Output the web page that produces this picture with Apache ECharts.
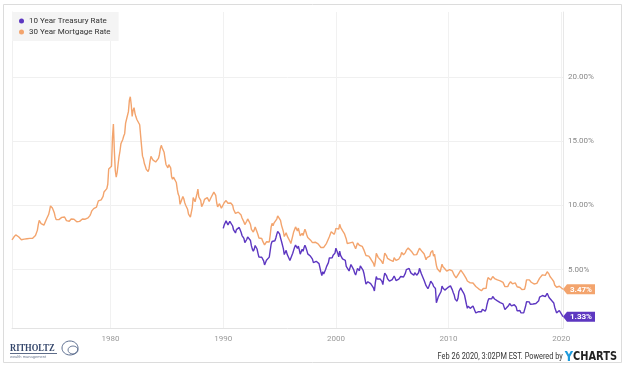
<!DOCTYPE html>
<html>
<head>
<meta charset="utf-8">
<script src="https://cdn.jsdelivr.net/npm/echarts@6/dist/echarts.min.js"></script>
<style>html,body{margin:0;padding:0;background:#fff}#c{width:625px;height:370px}</style>
</head>
<body>
<div id="c"></div>
<script>
// ---- data (monthly values) ----
const seriesNames = ['10 Year Treasury Rate', '30 Year Mortgage Rate'];
const mortgageStart = 1971.25;   // April 1971
const treasuryStart = 1990.0;    // January 1990
const asOfDate = 2020.155;       // Feb 26 2020 (last point)
const yTicks = [5, 10, 15, 20];
const xTicks = [1980, 1990, 2000, 2010, 2020];

const mortgage = [
  7.31,7.43,7.53,7.60,7.70,7.69,7.63,7.55,7.48,
  7.44,7.32,7.29,7.29,7.37,7.37,7.40,7.40,7.42,7.42,7.43,7.44,
  7.44,7.44,7.46,7.54,7.65,7.73,8.05,8.50,8.82,8.77,8.58,8.54,
  8.54,8.46,8.41,8.58,8.97,9.09,9.28,9.59,9.96,9.98,9.79,9.62,
  9.43,9.10,8.89,8.82,8.91,8.89,8.82,8.84,9.06,9.21,9.15,9.09,
  9.02,8.81,8.76,8.73,8.76,8.85,8.93,8.98,9.00,8.92,8.81,8.79,
  8.72,8.67,8.69,8.75,8.83,8.86,8.94,8.94,8.90,8.92,8.92,8.96,
  9.02,9.15,9.20,9.36,9.57,9.71,9.74,9.78,9.76,9.86,10.11,10.35,
  10.39,10.41,10.43,10.50,10.69,11.04,11.09,11.09,11.30,11.64,12.83,12.90,
  12.88,13.04,15.28,16.32,14.26,12.71,12.19,12.56,13.20,13.79,14.21,14.79,
  14.90,15.13,15.40,15.58,16.40,16.70,16.83,17.29,18.16,18.45,17.83,16.92,
  17.40,17.60,17.16,16.89,16.68,16.70,16.82,16.27,15.43,14.61,13.83,13.62,
  13.25,13.04,12.80,12.78,12.63,12.87,13.42,13.81,13.73,13.54,13.44,13.42,
  13.37,13.23,13.39,13.65,13.94,14.42,14.67,14.47,14.35,14.13,13.64,13.18,
  13.08,12.92,13.17,13.20,12.91,12.22,12.03,12.19,12.19,12.14,11.78,11.26,
  10.88,10.71,10.08,9.94,10.14,10.68,10.51,10.20,10.01,9.97,9.70,9.31,
  9.20,9.08,9.04,9.83,10.60,10.54,10.28,10.33,10.89,11.26,10.65,10.64,
  10.38,9.89,9.93,10.20,10.46,10.46,10.43,10.60,10.48,10.30,10.27,10.61,
  10.73,10.65,11.03,11.05,10.77,10.20,9.88,9.99,10.13,9.95,9.77,9.74,
  9.90,10.20,10.27,10.37,10.48,10.16,10.04,10.10,10.18,10.18,10.01,9.67,
  9.64,9.37,9.50,9.49,9.47,9.62,9.58,9.24,9.01,8.86,8.71,8.50,
  8.43,8.76,8.94,8.85,8.67,8.51,8.13,7.98,7.92,8.09,8.31,8.22,
  7.92,7.71,7.46,7.46,7.47,7.42,7.21,7.11,6.92,6.83,7.16,7.17,
  7.06,7.15,7.68,8.32,8.60,8.40,8.61,8.51,8.64,8.93,9.17,9.20,
  9.15,8.83,8.46,8.32,7.96,7.57,7.61,7.86,7.64,7.48,7.38,7.20,
  7.03,7.08,7.62,7.93,8.07,8.32,8.25,8.00,8.23,7.92,7.62,7.60,
  7.82,7.65,7.90,8.14,7.94,7.69,7.50,7.48,7.43,7.29,7.21,7.10,
  6.99,7.04,7.13,7.14,7.14,7.00,6.95,6.92,6.72,6.71,6.87,6.72,
  6.79,6.81,7.04,6.92,7.15,7.55,7.63,7.94,7.82,7.85,7.74,7.91,
  8.21,8.33,8.24,8.15,8.52,8.29,8.15,8.03,7.91,7.80,7.75,7.38,
  7.03,7.05,6.95,7.08,7.15,7.16,7.13,6.95,6.82,6.62,6.66,7.07,
  7.00,6.89,7.01,6.99,6.81,6.65,6.49,6.29,6.09,6.11,6.07,6.05,
  5.92,5.84,5.75,5.81,5.48,5.23,5.63,6.26,6.15,5.95,5.93,5.88,
  5.71,5.64,5.45,5.83,6.27,6.29,6.06,5.87,5.75,5.72,5.73,5.75,
  5.71,5.63,5.93,5.86,5.72,5.58,5.70,5.82,5.77,6.07,6.33,6.27,
  6.15,6.25,6.32,6.51,6.60,6.68,6.76,6.52,6.40,6.36,6.24,6.14,
  6.22,6.29,6.16,6.18,6.26,6.66,6.70,6.57,6.38,6.38,6.21,6.10,
  5.76,5.92,5.97,5.92,6.04,6.32,6.43,6.48,6.04,6.20,6.09,5.33,
  5.06,5.13,5.00,4.81,4.86,5.42,5.22,5.19,5.06,4.95,4.88,4.93,
  5.03,4.99,4.97,5.10,4.89,4.74,4.56,4.43,4.35,4.23,4.30,4.71,
  4.76,4.95,4.84,4.84,4.64,4.51,4.55,4.27,4.11,4.07,3.99,3.96,
  3.92,3.89,3.95,3.91,3.80,3.68,3.55,3.60,3.50,3.38,3.35,3.35,
  3.41,3.53,3.57,3.45,3.54,4.07,4.37,4.46,4.49,4.19,4.26,4.46,
  4.43,4.30,4.34,4.34,4.19,4.16,4.13,4.12,4.16,4.04,4.00,3.86,
  3.67,3.71,3.77,3.67,3.84,3.98,4.05,3.91,3.89,3.80,3.94,3.96,
  3.87,3.66,3.69,3.61,3.60,3.57,3.44,3.44,3.46,3.47,3.77,4.20,
  4.15,4.17,4.20,4.05,4.01,3.90,3.97,3.88,3.81,3.90,3.92,3.95,
  4.03,4.33,4.44,4.47,4.59,4.57,4.53,4.55,4.63,4.83,4.87,4.64,
  4.46,4.37,4.27,4.14,4.07,3.80,3.77,3.62,3.61,3.69,3.70,3.72,
  3.62,3.47
];

const treasury = [
  8.21,8.47,8.59,8.79,8.76,8.48,8.47,8.75,8.89,8.72,8.39,8.08,
  8.09,7.85,8.11,8.04,8.07,8.28,8.27,7.90,7.65,7.53,7.42,7.09,
  7.03,7.34,7.54,7.48,7.39,7.26,6.84,6.59,6.42,6.59,6.87,6.77,
  6.60,6.26,5.98,5.97,6.04,5.96,5.81,5.68,5.36,5.33,5.72,5.77,
  5.75,5.97,6.48,6.97,7.18,7.10,7.30,7.24,7.46,7.74,7.96,7.81,
  7.78,7.47,7.20,7.06,6.63,6.17,6.28,6.49,6.20,6.04,5.93,5.71,
  5.65,5.81,6.27,6.51,6.74,6.91,6.87,6.64,6.83,6.53,6.20,6.30,
  6.58,6.42,6.69,6.89,6.71,6.49,6.22,6.30,6.21,6.03,5.88,5.81,
  5.54,5.57,5.65,5.64,5.65,5.50,5.46,5.34,4.81,4.53,4.83,4.65,
  4.72,5.00,5.23,5.18,5.54,5.90,5.79,5.94,5.92,6.11,6.03,6.28,
  6.66,6.52,6.26,5.99,6.44,6.10,6.05,5.83,5.80,5.74,5.72,5.24,
  5.16,5.10,4.89,5.14,5.39,5.28,5.24,4.97,4.73,4.57,4.65,5.09,
  5.04,4.91,5.28,5.21,5.16,4.93,4.65,4.26,3.87,3.94,4.05,4.03,
  4.05,3.90,3.81,3.96,3.57,3.33,3.98,4.45,4.27,4.29,4.30,4.27,
  4.15,4.08,3.83,4.35,4.72,4.73,4.50,4.28,4.13,4.10,4.19,4.23,
  4.22,4.17,4.50,4.34,4.14,4.00,4.18,4.26,4.20,4.46,4.54,4.47,
  4.42,4.57,4.72,4.99,5.11,5.11,5.09,4.88,4.72,4.73,4.60,4.56,
  4.76,4.72,4.56,4.69,4.75,5.10,5.00,4.67,4.52,4.53,4.15,4.10,
  3.74,3.74,3.51,3.68,3.88,4.10,4.01,3.89,3.69,3.81,3.53,2.42,
  2.52,2.87,2.82,2.93,3.29,3.72,3.56,3.59,3.40,3.39,3.40,3.59,
  3.73,3.69,3.73,3.85,3.42,3.20,3.01,2.70,2.65,2.54,2.76,3.29,
  3.39,3.58,3.41,3.46,3.17,3.00,3.00,2.30,1.98,2.15,2.01,1.98,
  1.97,1.97,2.17,2.05,1.80,1.62,1.53,1.68,1.72,1.75,1.65,1.72,
  1.91,1.98,1.96,1.76,1.93,2.30,2.58,2.74,2.81,2.62,2.72,2.90,
  2.86,2.71,2.72,2.71,2.56,2.60,2.54,2.42,2.53,2.30,2.33,2.21,
  1.88,1.98,2.04,1.94,2.20,2.36,2.32,2.17,2.17,2.07,2.26,2.24,
  2.09,1.78,1.89,1.81,1.81,1.64,1.50,1.56,1.63,1.76,2.14,2.49,
  2.43,2.42,2.48,2.30,2.30,2.19,2.32,2.21,2.20,2.36,2.35,2.40,
  2.58,2.86,2.84,2.87,2.98,2.91,2.89,2.89,3.00,3.15,3.12,2.83,
  2.71,2.68,2.57,2.53,2.40,2.07,2.06,1.63,1.70,1.71,1.81,1.86,
  1.76,1.33
];

// ---- build ----
const PURPLE = '#5d37c1';
const ORANGE = '#f3a46d';
const FONT = 'Roboto, sans-serif';

function toPairs(vals, start) {
  return vals.map((v, i) => [i === vals.length - 1 ? asOfDate : start + i / 12, v]);
}
const tData = toPairs(treasury, treasuryStart);
const mData = toPairs(mortgage, mortgageStart);

function tag(pairs, color) {
  const last = pairs[pairs.length - 1];
  return {
    symbol: 'path://M0,5 L4,0 L32,0 L32,10 L4,10 Z',
    symbolSize: [32, 10],
    symbolOffset: [16, 0],
    silent: true,
    itemStyle: { color: color },
    label: {
      show: true, position: 'inside', offset: [2, 0.5],
      color: '#fff', fontFamily: FONT, fontSize: 8, fontWeight: 'bold',
      formatter: (p) => p.value.toFixed(2) + '%'
    },
    data: [{ coord: last, value: last[1] }]
  };
}

const chart = echarts.init(document.getElementById('c'), null, { renderer: 'canvas' });
chart.setOption({
  animation: false,
  backgroundColor: '#fff',
  grid: { left: 12, right: 62, top: 12, bottom: 42 },
  legend: {
    orient: 'vertical', left: 12, top: 12,
    backgroundColor: '#f4f4f4',
    padding: [5, 8, 5, 7], itemGap: 3,
    icon: 'circle', itemWidth: 5, itemHeight: 5,
    textStyle: { fontFamily: FONT, fontSize: 8, color: '#333' },
    data: seriesNames
  },
  xAxis: {
    type: 'value', min: mortgageStart, max: asOfDate,
    axisLine: { show: true, lineStyle: { color: '#e3e3e3' } },
    axisTick: { show: false, customValues: xTicks },
    axisLabel: { customValues: xTicks, color: '#999', fontFamily: FONT, fontSize: 8, margin: 7,
      formatter: (v) => String(Math.round(v)) },
    splitLine: { show: true, lineStyle: { color: '#f1f1f1' } }
  },
  yAxis: [{
    type: 'value', position: 'right', min: 0.45, max: 25.05,
    axisLine: { show: true, lineStyle: { color: '#e8e8e8' } },
    axisTick: { show: false, customValues: yTicks },
    axisLabel: {
      customValues: yTicks, color: '#888', fontFamily: FONT, fontSize: 8, margin: 5,
      verticalAlign: 'middle', padding: [0, 0, 8, 0],
      formatter: (v) => v.toFixed(2) + '%'
    },
    splitLine: { show: true, lineStyle: { color: '#f0f0f0' } }
  }, {
    type: 'value', position: 'left', min: 0.45, max: 25.05,
    axisLine: { show: true, lineStyle: { color: '#f0f0f0' } },
    axisTick: { show: false }, axisLabel: { show: false }, splitLine: { show: false }
  }],
  series: [
    {
      name: seriesNames[0], type: 'line', data: tData, showSymbol: false,
      itemStyle: { color: PURPLE }, lineStyle: { color: PURPLE, width: 1.4 },
      markPoint: tag(tData, PURPLE), z: 3
    },
    {
      name: seriesNames[1], type: 'line', data: mData, showSymbol: false,
      itemStyle: { color: ORANGE }, lineStyle: { color: ORANGE, width: 1.4 },
      markPoint: tag(mData, ORANGE), z: 2
    }
  ],
  graphic: [
    { type: 'rect', shape: { x: 3.5, y: 4.5, width: 618, height: 358 }, style: { fill: 'none', stroke: '#dcdcdc', lineWidth: 1 }, z: -1, silent: true },
    { type: 'text', x: 10, y: 343, scaleX: 0.85, style: { text: 'RITHOLTZ', font: 'bold 10px "Liberation Serif", serif', fill: '#34466b' } },
    { type: 'line', shape: { x1: 10, y1: 353.5, x2: 57, y2: 353.5 }, style: { stroke: '#34466b', lineWidth: 0.8 } },
    { type: 'text', x: 10, y: 355, style: { text: 'wealth management', font: '4px sans-serif', fill: '#6d7a93' } },
    { type: 'ellipse', shape: { cx: 70, cy: 348, rx: 8, ry: 7 }, style: { fill: 'none', stroke: '#4a5d82', lineWidth: 0.9 } },
    { type: 'ellipse', shape: { cx: 73, cy: 350, rx: 5, ry: 4 }, style: { fill: 'none', stroke: '#4a5d82', lineWidth: 0.8 } },
    {
      type: 'text', x: 617, y: 357, originX: 0, originY: 0, scaleX: 0.82,
      style: {
        text: '{a|Feb 26 2020, 3:02PM EST. Powered by }{y|Y}{c|CHARTS}',
        align: 'right', verticalAlign: 'middle',
        rich: {
          a: { font: '9px ' + FONT, fill: '#333' },
          y: { font: 'bold 14px "DejaVu Sans", sans-serif', fill: '#1e9bdc' },
          c: { font: 'bold 12px "DejaVu Sans", sans-serif', fill: '#222' }
        }
      }
    }
  ]
});
</script>
</body>
</html>
